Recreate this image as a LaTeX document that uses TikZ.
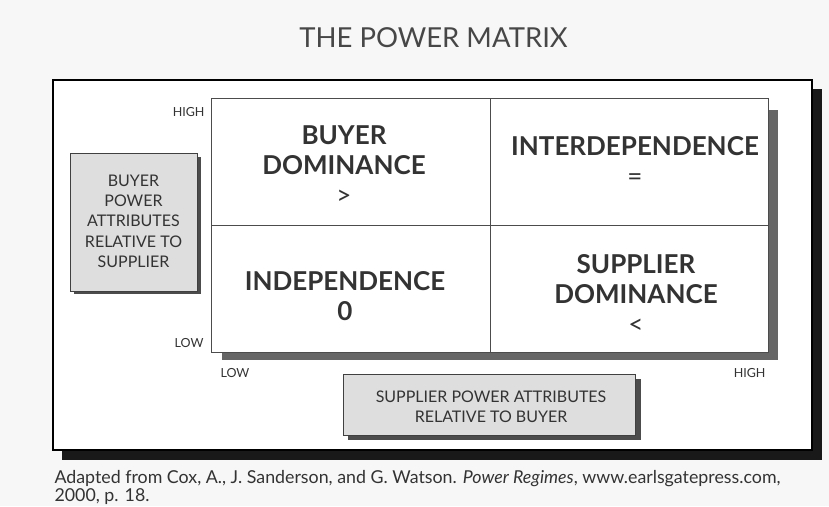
\documentclass[tikz,border=0pt]{standalone}
\usepackage{fontspec}
\setmainfont{Lato}
\usetikzlibrary{positioning}

\definecolor{inkgray}{gray}{0.2}
\definecolor{paper}{gray}{0.97}
\newcommand{\relsign}[1]{{\mdseries #1}}
\tikzset{
  quadlabel/.style={align=center,text=inkgray,font=\fontsize{26}{30}\selectfont\bfseries},
  axislabel/.style={align=center,text=inkgray,font=\fontsize{16}{20.3}\selectfont},
  ticklabel/.style={text=inkgray,font=\fontsize{12.5}{14}\selectfont},
  sourcelabel/.style={text=inkgray,font=\fontsize{17.8}{20}\selectfont,anchor=base west},
  attrbox/.style={draw=black!75,fill=black!13,line width=0.8pt},
  attrshadow/.style={fill=black!70}
}

\begin{document}
\begin{tikzpicture}[x=1pt,y=-1pt]
\useasboundingbox (0,0) rectangle (829,506);
\fill[paper] (0,0) rectangle (829,506);

\node[text=black!72,font=\fontsize{27.5}{30}\selectfont,anchor=base] (title) at (433.5,47) {THE POWER MATRIX};

% outer frame with heavy shadow
\fill[black!90] (62,89) rectangle (822,460);
\draw[line width=1.8pt,fill=white] (53,80) rectangle (812,450);

% the matrix
\fill[black!60] (222,110) rectangle (778,360);
\draw[black!70,fill=white] (211,98) rectangle (768,352);
\draw[black!70] (490,98) --(490,352) (211,225) --(768,225);

\node[quadlabel] (buyerdom) at (344,165.4) {BUYER\\DOMINANCE\\\relsign{>}};
\node[quadlabel] (interdep) at (635,161.4) {INTERDEPENDENCE\\\relsign{=}};
\node[quadlabel] (indep) at (345,296.4) {INDEPENDENCE\\0};
\node[quadlabel] (supplierdom) at (636,294.4) {SUPPLIER\\DOMINANCE\\\relsign{<}};

% axis ends
\node[ticklabel,anchor=east] (yhigh) at (208,112) {HIGH};
\node[ticklabel,anchor=east] (ylow) at (207,343) {LOW};
\node[ticklabel,anchor=west] (xlow) at (217,373) {LOW};
\node[ticklabel,anchor=east] (xhigh) at (769,373) {HIGH};

% buyer axis box
\fill[attrshadow] (74,157) rectangle (201,294);
\draw[attrbox] (70,153) rectangle (197,291);
\node[axislabel] (buyeraxis) at (133.5,221.3) {BUYER\\POWER\\ATTRIBUTES\\RELATIVE TO\\SUPPLIER};

% supplier axis box
\fill[attrshadow] (348,379) rectangle (641,440);
\draw[attrbox] (343,374) rectangle (635,435);
\node[axislabel] (supplieraxis) at (491,406.7) {SUPPLIER POWER ATTRIBUTES\\RELATIVE TO BUYER};

% source line
\node[sourcelabel] (source) at (51,483.5)
  {Adapted from Cox, A., J. Sanderson, and G. Watson. \textit{Power Regimes}, www.earlsgatepress.com,};
\node[sourcelabel] (year) at (51,501) {2000, p. 18.};
\end{tikzpicture}
\end{document}
